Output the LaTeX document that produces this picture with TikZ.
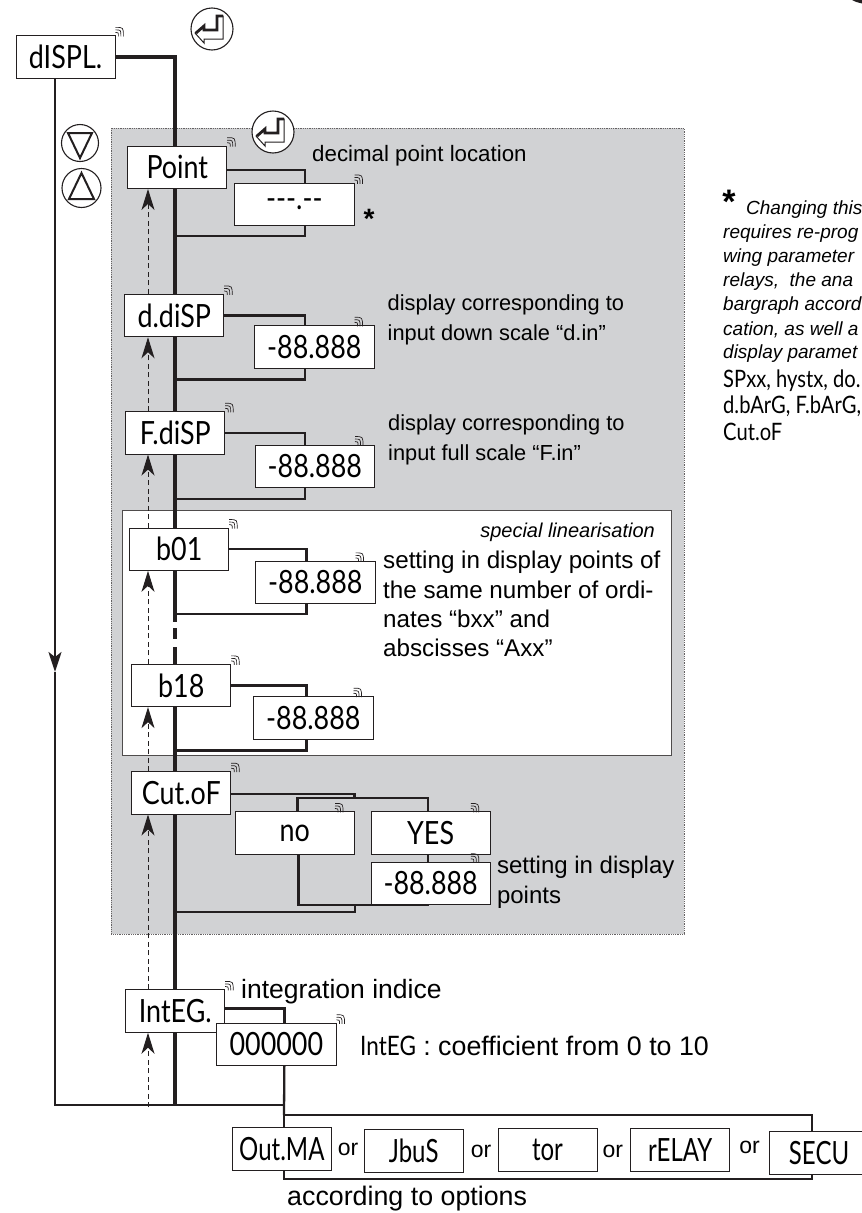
\documentclass[tikz,border=0pt]{standalone}
\usepackage{fontspec}
\setmainfont{Liberation Sans}
\newfontfamily\lcdfont[FakeStretch=0.84]{Lato}
\newfontfamily\lcdnarrow[FakeStretch=0.75]{Lato}
\usetikzlibrary{arrows.meta,
                positioning
            }
\pgfdeclarelayer{back}
\pgfdeclarelayer{wires}
\pgfsetlayers{back,wires,main}
\definecolor{panelgrey}{HTML}{D1D2D4}
\definecolor{inkblack}{HTML}{231F20}
\tikzset{
    parambox/.style={draw=inkblack, line width=0.8pt, fill=white, minimum width=99pt, minimum height=42.5pt, inner sep=0pt, font=\lcdfont\fontsize{32}{32}\selectfont},
    valuebox/.style={parambox, minimum width=119.5pt},
    optionbox/.style={parambox, font=\lcdnarrow\fontsize{32}{32}\selectfont},
    wire/.style={draw=inkblack, line width=2.3pt},
    buswire/.style={draw=inkblack, line width=4.6pt},
    upflow/.style={draw=inkblack, line width=1pt, dash pattern=on 5pt off 3.5pt, -{Stealth[length=21pt, width=13pt, inset=6pt]}},
    keybtn/.style={circle, draw=inkblack, line width=1.1pt, fill=white, inner sep=0pt},
    caption/.style={inner sep=0pt, align=left, font=\fontsize{21.8}{30}\selectfont},
    orlabel/.style={inner sep=0pt, font=\fontsize{23}{23}\selectfont},
    notetext/.style={inner sep=0pt, anchor=west, font=\itshape\fontsize{19}{24}\selectfont},
    notelcd/.style={inner sep=0pt, anchor=west, font=\lcdfont\fontsize{24}{24}\selectfont}
}
\newcommand{\blinkmark}[2][0]{%
    \foreach \r in {3,5.5,8}{
        \draw[inkblack, line width=0.7pt, shift={(#2.north east)}, xshift=#1pt]
            (0,-\r) .. controls (\r,-\r) .. (\r,1);
    }
}
\newcommand{\entersign}[1]{%
    \draw[inkblack, line width=1pt, fill=white, line join=miter, shift={(#1.center)}]
        (5,-13) -- (11,-13) -- (11,10) -- (-8,10) -- (-8,14) -- (-17,4) -- (-8,-3) -- (-8,1) -- (5,1) -- cycle;
    \draw[inkblack, line width=2.8pt, line join=miter, shift={(#1.center)}]
        (-16,4) -- (-8,-3) -- (-8,1) -- (5,1) -- (5,-13) -- (11,-13);
}
\begin{document}
\begin{tikzpicture}[x=1pt, y=-1pt]
    \useasboundingbox (0,0) rectangle (862,1213);

    % Panels behind the menu
    \begin{pgfonlayer}{back}
        \draw[inkblack!70, line width=0.8pt, densely dotted, fill=panelgrey] (111,128) rectangle (684,934);
        \draw[inkblack!80, line width=0.9pt, fill=white] (122,510) rectangle (671,755);
    \end{pgfonlayer}

    % Fragment of a key cut by the page
    \fill[inkblack] (852,0) .. controls (856,2) .. (862,3.5) -- (862,0) -- cycle;

    % Parameter column
    \node (displ) [parambox] at (65.5,57) {dISPL.};
    \node (point) [parambox, below right=67pt and 12pt of displ] {Point};
    \node (ddisp) [parambox, below=105pt of point, xshift=-3pt] {d.diSP};
    \node (fdisp) [parambox, below=74pt of ddisp, xshift=1pt] {F.diSP};
    \node (b01) [parambox, below=73pt of fdisp, xshift=4pt] {b01};
    \node (b18) [parambox, below=93pt of b01, xshift=2pt] {b18};
    \node (cutof) [parambox, below=64pt of b18] {Cut.oF};
    \node (integ) [parambox, below=175pt of cutof, xshift=-6pt] {IntEG.};

    % Value boxes
    \node (pointval) [valuebox, below right=-6pt and 7pt of point] {---.--};
    \node (ddispval) [valuebox, below right=-12pt and 30pt of ddisp] {-88.888};
    \node (fdispval) [valuebox, below right=-10pt and 29.5pt of fdisp] {-88.888};
    \node (b01val) [valuebox, below right=-10pt and 26pt of b01] {-88.888};
    \node (b18val) [valuebox, below right=-11pt and 22pt of b18] {-88.888};
    \node (no) [valuebox, below right=-3pt and 3.5pt of cutof] {no};
    \node (yes) [valuebox, right=15.5pt of no] {YES};
    \node (yesval) [valuebox, below=7pt of yes] {-88.888};
    \node (integval) [valuebox, below right=-10pt and -9pt of integ] {000000};

    % Options row
    \node (outma) [optionbox, below=61pt of integval, xshift=5.5pt] {Out.MA};
    \node (jbus) [optionbox, right=32pt of outma, yshift=-2pt] {JbuS};
    \node (tor) [optionbox, right=34pt of jbus, yshift=1pt] {tor};
    \node (relay) [optionbox, right=33pt of tor] {rELAY};
    \node (secu) [optionbox, right=39pt of relay, yshift=-3pt] {SECU};
    \node (or1) [orlabel, right=6pt of outma, yshift=-1pt] {or};
    \node (or2) [orlabel, right=7pt of jbus, yshift=-1pt] {or};
    \node (or3) [orlabel, right=5pt of tor, yshift=-2pt] {or};
    \node (or4) [orlabel, right=9pt of relay, yshift=2pt] {or};

    % Keys
    \node (enterA) [keybtn, minimum size=42pt] at (212,29) {};
    \node (enterB) [keybtn, minimum size=42pt] at (273,132) {};
    \node (keydown) [keybtn, minimum size=37pt] at (80,143) {};
    \node (keyup) [keybtn, minimum size=39pt] at (81.5,188) {};
    \entersign{enterA}
    \entersign{enterB}
    \draw[inkblack, line width=2pt, shift={(keydown.center)}] (-12,-10) -- (12,-10) -- (0,15) -- cycle;
    \draw[inkblack, line width=2pt, shift={(keyup.center)}] (-12.5,11) -- (12.5,11) -- (0,-15) -- cycle;

    % Labels
    \node (pointlbl) [caption, font=\fontsize{22.3}{30}\selectfont, anchor=west] at (312,156) {decimal point location};
    \node (star) [right=9pt of pointval, yshift=-14pt, inner sep=0pt, font=\bfseries\fontsize{28}{28}\selectfont] {*};
    \node (ddisplbl) [caption, right=13pt of ddispval, yshift=27pt] {display corresponding to\\input down scale “d.in”};
    \node (fdisplbl) [caption, right=13pt of fdispval, yshift=26pt] {display corresponding to\\input full scale “F.in”};
    \node (speclbl) [inner sep=0pt, anchor=east, font=\itshape\fontsize{20}{20}\selectfont] at (655,532) {special linearisation};
    \node (b01lbl) [caption, font=\fontsize{24.2}{29.3}\selectfont, anchor=north west] at (383,551) {setting in display points of\\the same number of ordi-\\nates “bxx” and\\abscisses “Axx”};
    \node (yeslbl) [caption, font=\fontsize{24}{29.3}\selectfont, right=6pt of yesval, yshift=1pt] {setting in display\\points};
    \node (integlbl) [caption, font=\fontsize{26.5}{30}\selectfont, anchor=west] at (241,992) {integration indice};
    \node (coeflbl) [caption, font=\fontsize{26.8}{30}\selectfont, anchor=west] at (360,1046) {{\lcdfont IntEG} : coefficient from 0 to 10};
    \node (optlbl) [caption, font=\fontsize{26.8}{30}\selectfont, anchor=west] at (287,1199) {according to options};

    % Note on the right
    \node (notestar) [inner sep=0pt, font=\bfseries\fontsize{34}{34}\selectfont] at (729,202) {*};
    \node (note1) [notetext] at (746,210) {Changing this};
    \node (note2) [notetext] at (723,234) {requires re-prog};
    \node (note3) [notetext] at (723,258) {wing parameter};
    \node (note4) [notetext] at (723,282) {relays,\ \ the ana};
    \node (note5) [notetext] at (723,306) {bargraph accord};
    \node (note6) [notetext] at (723,330) {cation, as well a};
    \node (note7) [notetext] at (723,354) {display paramet};
    \node (note8) [notelcd] at (723,381) {SPxx, hystx, do.};
    \node (note9) [notelcd] at (723,406) {d.bArG, F.bArG,};
    \node (note10) [notelcd] at (723,432) {Cut.oF};

    % Signal marks on the box corners
    \foreach \n in {displ,point,pointval,ddisp,fdisp,b01,b18,cutof,integ,integval}{
        \blinkmark{\n}
    }
    \foreach \n in {ddispval,fdispval,b01val,b18val,no,yes,yesval}{
        \blinkmark[-20]{\n}
    }

    % Named points of the wiring
    \coordinate (busx) at (175,0);
    \coordinate (flowx) at (148,0);
    \coordinate (busbot) at (175,1105);
    \coordinate (leftbot) at (55,1105);
    \coordinate (leftarrow) at (55,672);
    \coordinate (splittop) at (354.5,798);
    \coordinate (splitbot) at (355,905);
    \coordinate (splitjoin) at (175,912);
    \coordinate (looptl) at (284,1115);
    \coordinate (loopbr) at (812,1179);
    \coordinate (busgapA) at (175,622);
    \coordinate (busgapB) at (175,628);
    \coordinate (busgapC) at (175,639);
    \coordinate (busgapD) at (175,647);

    \begin{pgfonlayer}{wires}
        % Main line
        \draw[wire, line width=3.2pt] (displ.east) -- (displ.east -| busx);
        \draw[buswire] ([yshift=1.6pt]displ.east -| busx) -- (busgapA);
        \draw[buswire] (busgapB) -- (busgapC);
        \draw[buswire] (busgapD) -- (busbot);

        % Branches to the value boxes
        \foreach \n/\v/\dy/\dx/\dd in {point/pointval/-3/10.5/10,
                                       ddisp/ddispval/0/-9.5/11,
                                       fdisp/fdispval/0/-10/11,
                                       b01/b01val/0/-9/10,
                                       b18/b18val/0/-7/11}{
            \draw[wire] ([yshift=\dy pt]\n.east) -| ([xshift=\dx pt]\v.north);
            \draw[wire] ([xshift=\dx pt]\v.south) |- ([yshift=-\dd pt]\v.south -| busx);
        }

        % Cut.oF branch
        \draw[wire] ([yshift=-1.5pt]cutof.east) -| (splittop);
        \draw[wire] ([xshift=2.5pt]no.north) |- (splittop) -| ([xshift=-2.5pt]yes.north);
        \draw[wire] ([xshift=-2.5pt]yes.south) -- ([xshift=-2.5pt]yesval.north);
        \draw[wire] ([xshift=-2.5pt]yesval.south) |- (splitbot) -| ([xshift=3.5pt]no.south);
        \draw[wire] (splitbot) |- (splitjoin);

        % IntEG branch
        \draw[wire] ([yshift=2.5pt]integ.east) -| ([xshift=8pt]integval.north);
        \draw[wire] ([xshift=8pt]integval.south) -- (looptl);
        \draw[wire] (looptl) rectangle (loopbr);

        % Return line
        \draw[wire, -{Stealth[length=20pt, width=13pt, inset=5pt]}] ([xshift=-10.5pt]displ.south) -- (leftarrow);
        \draw[wire] (leftarrow) -- (leftbot) -- (leftbot -| looptl);
    \end{pgfonlayer}

    % Dashed arrows
    \draw[upflow] (flowx |- ddisp.north) -- (flowx |- point.south);
    \draw[upflow] (flowx |- fdisp.north) -- (flowx |- ddisp.south);
    \draw[upflow] (flowx |- b01.north) -- (flowx |- fdisp.south);
    \draw[upflow] (flowx |- b18.north) -- (flowx |- b01.south);
    \draw[upflow] (flowx |- cutof.north) -- (flowx |- b18.south);
    \draw[upflow] (flowx |- integ.north) -- (flowx |- cutof.south);
    \draw[upflow] ([yshift=-2pt]flowx |- busbot) -- (flowx |- integ.south);
\end{tikzpicture}
\end{document}
